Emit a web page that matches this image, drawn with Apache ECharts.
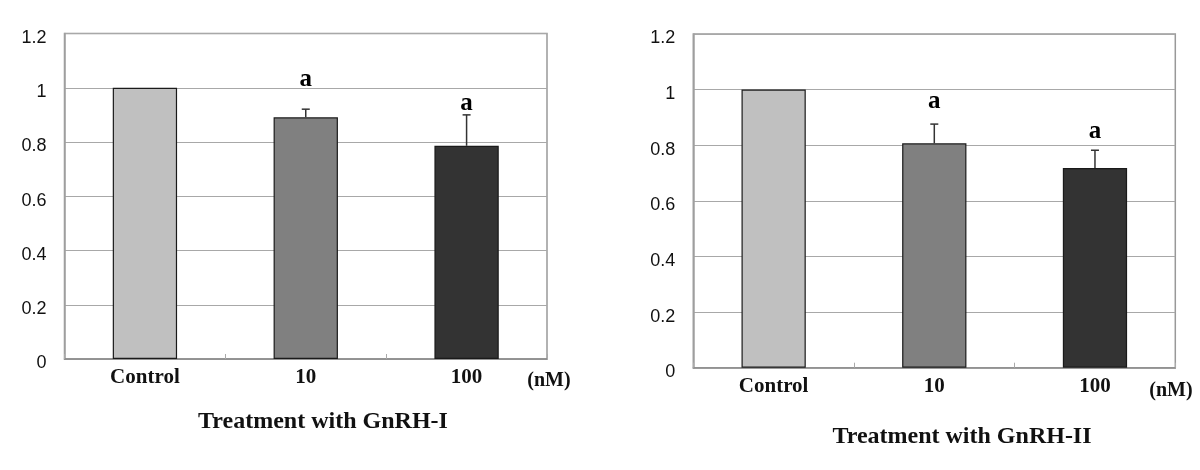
<!DOCTYPE html>
<html>
<head>
<meta charset="utf-8">
<script src="https://cdn.jsdelivr.net/npm/echarts@6/dist/echarts.min.js"></script>
<style>
html,body{margin:0;padding:0;background:#fff;}
#chart{width:1200px;height:470px;}
</style>
</head>
<body>
<div id="chart"></div>
<script>
// ---- data ----
const categories = ['Control', '10', '100'];
const barColors = ['#c0c0c0', '#808080', '#333333'];
const yTicks = [0, 0.2, 0.4, 0.6, 0.8, 1, 1.2];

// GnRH-I panel
const gnrh1Values = [1.0, 0.891, 0.786];
const gnrh1ErrTop = [1.0, 0.921, 0.900];
const gnrh1Sig = ['', 'a', 'a'];
const gnrh1SigPos = [null, 1.032, 0.941];

// GnRH-II panel
const gnrh2Values = [1.0, 0.807, 0.718];
const gnrh2ErrTop = [1.0, 0.876, 0.782];
const gnrh2Sig = ['', 'a', 'a'];
const gnrh2SigPos = [null, 0.958, 0.850];

const titles = ['Treatment with GnRH-I', 'Treatment with GnRH-II'];
const unitLabel = '(nM)';

const SERIF = '"Liberation Serif", "Times New Roman", serif';
const SANS = '"Liberation Sans", Arial, sans-serif';

const grids = [
  {left: 64.5, top: 33.5, width: 482.5, height: 325.5},
  {left: 693.3, top: 34, width: 482, height: 333.7}
];

function xAxisFor(i) {
  return {
    type: 'category', gridIndex: i, data: categories,
    axisLine: {show: true, lineStyle: {color: '#8a8a8a', width: 1.5}},
    axisTick: {show: true, inside: true, length: 5, lineStyle: {color: '#aaa'}},
    axisLabel: {fontFamily: SERIF, fontWeight: 'bold', fontSize: 21, color: '#111', margin: 8}
  };
}
function yAxisFor(i) {
  return {
    type: 'value', gridIndex: i, min: 0, max: 1.2, interval: 0.2,
    axisLine: {show: true, lineStyle: {color: '#a0a0a0', width: 1.5}},
    axisTick: {show: false},
    splitLine: {show: true, lineStyle: {color: '#a8a8a8', width: 1}},
    axisLabel: {
      fontFamily: SANS, fontSize: 18, color: '#111', margin: 18,
      verticalAlign: 'top', lineHeight: 9,
      formatter: v => String(Math.round(v * 10) / 10)
    }
  };
}

function barSeries(i, values) {
  return {
    type: 'bar', xAxisIndex: i, yAxisIndex: i, barWidth: '40%',
    data: values.map((v, k) => ({value: v, itemStyle: {color: barColors[k]}})),
    itemStyle: {borderColor: '#1a1a1a', borderWidth: 1.2},
    z: 3, animation: false
  };
}

function errSeries(i, values, tops) {
  return {
    type: 'custom', xAxisIndex: i, yAxisIndex: i, z: 4, animation: false,
    data: values.map((v, k) => [k, v, tops[k]]),
    renderItem: function (params, api) {
      const x = api.coord([api.value(0), api.value(1)]);
      const t = api.coord([api.value(0), api.value(2)]);
      if (Math.abs(x[1] - t[1]) < 0.5) return null;
      const cap = 4;
      return {
        type: 'group',
        children: [
          {type: 'line', shape: {x1: x[0], y1: x[1], x2: t[0], y2: t[1]}, style: {stroke: '#333', lineWidth: 1.5}},
          {type: 'line', shape: {x1: t[0] - cap, y1: t[1], x2: t[0] + cap, y2: t[1]}, style: {stroke: '#333', lineWidth: 1.5}}
        ]
      };
    }
  };
}

function sigSeries(i, sig, pos) {
  const data = [];
  sig.forEach((s, k) => { if (s) data.push({value: [k, pos[k]], name: s}); });
  return {
    type: 'scatter', xAxisIndex: i, yAxisIndex: i, symbolSize: 0, z: 5, animation: false,
    data: data,
    itemStyle: {opacity: 1},
    label: {
      show: true, position: 'inside', formatter: p => p.name,
      fontFamily: SERIF, fontWeight: 'bold', fontSize: 25, color: '#000', opacity: 1
    }
  };
}

const chart = echarts.init(document.getElementById('chart'), null, {renderer: 'canvas'});
chart.setOption({
  backgroundColor: '#ffffff',
  animation: false,
  title: [
    {text: titles[0], left: 318, top: 405, textAlign: 'center',
     textStyle: {fontFamily: SERIF, fontWeight: 'bold', fontSize: 24, color: '#111'}},
    {text: titles[1], left: 957, top: 420, textAlign: 'center',
     textStyle: {fontFamily: SERIF, fontWeight: 'bold', fontSize: 24, color: '#111'}},
    {text: unitLabel, left: 544, top: 366, textAlign: 'center',
     textStyle: {fontFamily: SERIF, fontWeight: 'bold', fontSize: 20, color: '#111'}},
    {text: unitLabel, left: 1166, top: 376, textAlign: 'center',
     textStyle: {fontFamily: SERIF, fontWeight: 'bold', fontSize: 20, color: '#111'}}
  ],
  grid: grids.map(g => Object.assign({show: true, borderColor: '#999', borderWidth: 1.5, backgroundColor: 'transparent'}, g)),
  xAxis: [xAxisFor(0), xAxisFor(1)],
  yAxis: [yAxisFor(0), yAxisFor(1)],
  series: [
    barSeries(0, gnrh1Values), errSeries(0, gnrh1Values, gnrh1ErrTop), sigSeries(0, gnrh1Sig, gnrh1SigPos),
    barSeries(1, gnrh2Values), errSeries(1, gnrh2Values, gnrh2ErrTop), sigSeries(1, gnrh2Sig, gnrh2SigPos)
  ]
});
</script>
</body>
</html>
